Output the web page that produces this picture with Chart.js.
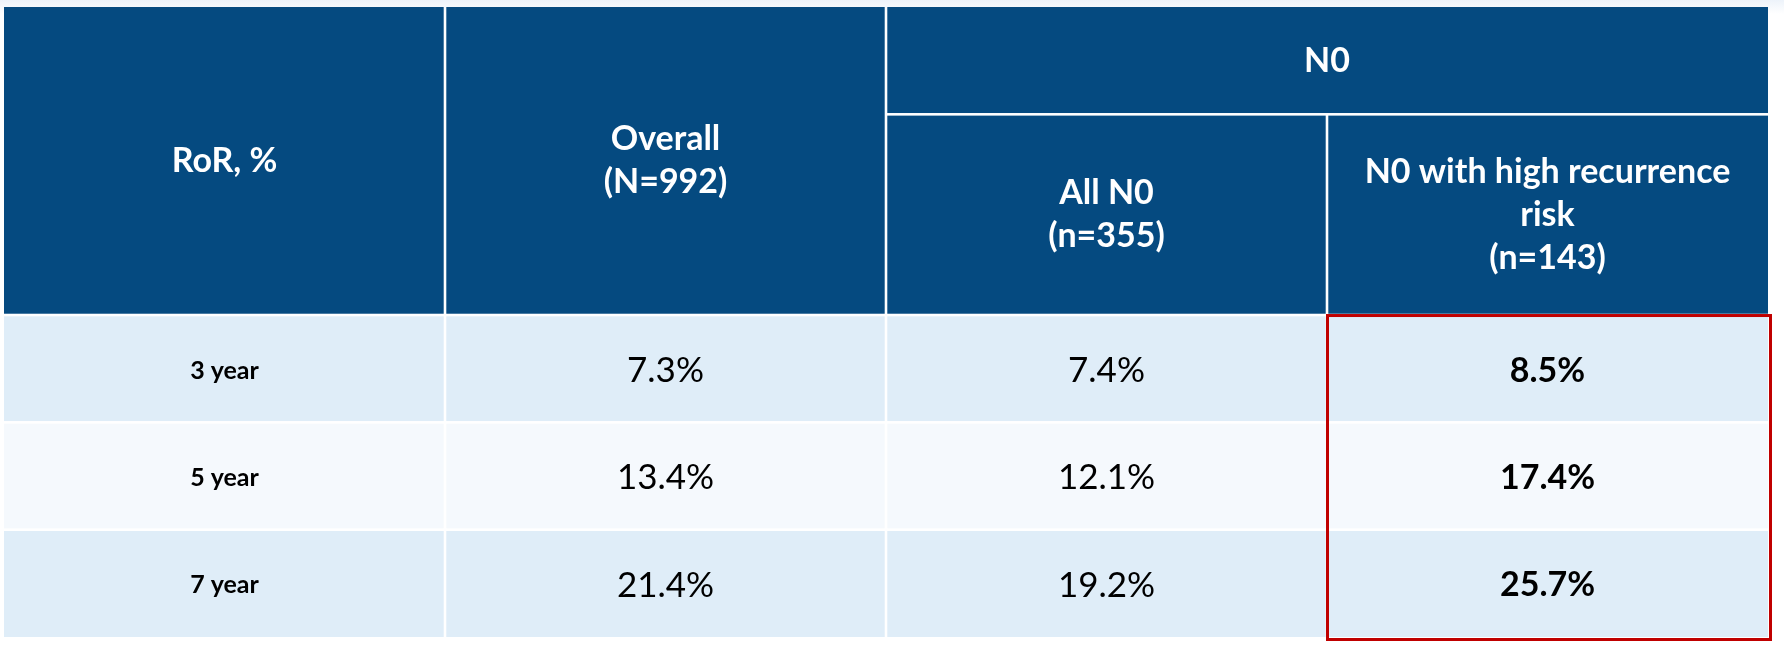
<!DOCTYPE html>
<html>
<head>
<meta charset="utf-8">
<script src="https://cdn.jsdelivr.net/npm/chart.js@4"></script>
<style>
html, body { margin: 0; padding: 0; background: #fff; }
#wrap { width: 1784px; height: 650px; background: linear-gradient(#edf3fa 0px, #ffffff 14px); }
canvas { display: block; }
</style>
</head>
<body>
<div id="wrap"><canvas id="tabla" width="1784" height="650"></canvas></div>
<script>
// Datos de la tabla
const filas = ['3 year', '5 year', '7 year'];
const overall = [7.3, 13.4, 21.4];
const allN0 = [7.4, 12.1, 19.2];
const n0Alto = [8.5, 17.4, 25.7];
const encabezados = [['RoR, %'], ['Overall', '(N=992)'], ['All N0', '(n=355)'], ['N0 with high recurrence', 'risk', '(n=143)']];
const grupo = 'N0';

// Alturas en unidades del eje y (fila de grupo, subencabezado, filas de datos)
const altoGrupo = 1;
const altoSub = 1.87;
const finEnc = altoGrupo + altoSub;
const totalY = finEnc + filas.length;

const azul = '#054a80';
const claro = '#dfedf8';
const claro2 = '#f5f9fd';
const rojo = '#c00000';

function pct(v) { return v.toFixed(1) + '%'; }

// un dataset por columna, los puntos sirven de ancla para el texto
const columnas = [filas, overall.map(pct), allN0.map(pct), n0Alto.map(pct)];
const datasets = columnas.map((col, c) => ({
    label: encabezados[c].join(' '),
    data: col.map((_, i) => ({ x: c + 0.5, y: finEnc + i + 0.5 })),
    textos: col,
    pointRadius: 0
}));

const pluginTabla = {
    id: 'tabla',
    beforeDatasetsDraw(chart) {
        const ctx = chart.ctx;
        const x = chart.scales.x, y = chart.scales.y;
        const g = 1.3;
        function celda(c0, c1, r0, r1, color) {
            const a = x.getPixelForValue(c0) + (c0 > 0 ? g : 0);
            const b = x.getPixelForValue(c1) - (c1 < 4 ? g : 0);
            const t = y.getPixelForValue(r0) + (r0 > 0 ? g : 0);
            const d = y.getPixelForValue(r1) - (r1 < totalY ? g : 0);
            ctx.fillStyle = color;
            ctx.fillRect(a, t, b - a, d - t);
        }
        function texto(lineas, cx, cy, fuente, color, alto) {
            ctx.font = fuente;
            ctx.fillStyle = color;
            ctx.textAlign = 'center';
            ctx.textBaseline = 'middle';
            const y0 = cy - (lineas.length - 1) * alto / 2;
            lineas.forEach((l, i) => ctx.fillText(l, cx, y0 + i * alto));
        }
        ctx.save();
        // encabezados
        celda(0, 1, 0, finEnc, azul);
        celda(1, 2, 0, finEnc, azul);
        celda(2, 4, 0, altoGrupo, azul);
        celda(2, 3, altoGrupo, finEnc, azul);
        celda(3, 4, altoGrupo, finEnc, azul);
        // filas de datos
        filas.forEach((f, i) => {
            for (let c = 0; c < 4; c++) {
                celda(c, c + 1, finEnc + i, finEnc + i + 1, i % 2 === 1 ? claro2 : claro);
            }
        });
        const fh = 'bold 34px Lato';
        const lh = 43;
        texto(encabezados[0], x.getPixelForValue(0.5), y.getPixelForValue(finEnc / 2), fh, '#fff', lh);
        texto(encabezados[1], x.getPixelForValue(1.5), y.getPixelForValue(finEnc / 2), fh, '#fff', lh);
        texto([grupo], x.getPixelForValue(3), y.getPixelForValue(altoGrupo / 2), fh, '#fff', lh);
        texto(encabezados[2], x.getPixelForValue(2.5), y.getPixelForValue(altoGrupo + altoSub / 2), fh, '#fff', lh);
        texto(encabezados[3], x.getPixelForValue(3.5), y.getPixelForValue(altoGrupo + altoSub / 2), fh, '#fff', lh);
        ctx.restore();
    },
    afterDatasetsDraw(chart) {
        const ctx = chart.ctx;
        const x = chart.scales.x, y = chart.scales.y;
        ctx.save();
        ctx.textAlign = 'center';
        ctx.textBaseline = 'middle';
        ctx.fillStyle = '#000';
        chart.data.datasets.forEach((ds, c) => {
            ctx.font = c === 0 ? 'bold 25px Lato' : (c === 3 ? 'bold 34px Lato' : '35px Lato');
            chart.getDatasetMeta(c).data.forEach((p, i) => {
                ctx.fillText(ds.textos[i], p.x, p.y + 2);
            });
        });
        // recuadro rojo de la última columna
        ctx.strokeStyle = rojo;
        ctx.lineWidth = 3;
        const a = x.getPixelForValue(3) + 0.5;
        const b = x.getPixelForValue(4) + 2.5;
        const t = y.getPixelForValue(finEnc) + 0.5;
        const d = y.getPixelForValue(totalY) + 2.5;
        ctx.strokeRect(a, t, b - a, d - t);
        ctx.restore();
    }
};

new Chart(document.getElementById('tabla'), {
    type: 'scatter',
    data: { datasets: datasets },
    options: {
        responsive: false,
        animation: false,
        events: [],
        layout: { padding: { left: 4, right: 16, top: 7, bottom: 13 } },
        plugins: { legend: { display: false }, tooltip: { enabled: false } },
        scales: {
            x: { display: false, min: 0, max: 4 },
            y: { display: false, min: 0, max: totalY, reverse: true }
        }
    },
    plugins: [pluginTabla]
});
</script>
</body>
</html>
